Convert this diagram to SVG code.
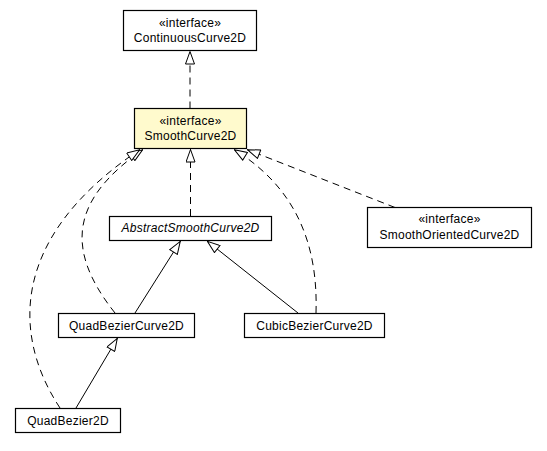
<svg xmlns="http://www.w3.org/2000/svg" width="547" height="451" viewBox="0 0 547 451">
<style>
.box{fill:#fff;stroke:#000;stroke-width:1.2}
.hl{fill:#fffacd}
.t{font-family:"Liberation Sans",Arial,sans-serif;font-size:12px;letter-spacing:0.25px;text-anchor:middle;fill:#000}
.i{font-style:italic}
.dash{fill:none;stroke:#000;stroke-width:1;stroke-dasharray:7,5;marker-end:url(#tri)}
.solid{fill:none;stroke:#000;stroke-width:1;marker-end:url(#tri)}
</style>
<defs>
<marker id="tri" viewBox="0 0 14 10" refX="14" refY="5" markerWidth="14" markerHeight="10" markerUnits="userSpaceOnUse" orient="auto">
<path d="M1,0.5 L13.5,5 L1,9.5 Z" fill="#fff" stroke="#000" stroke-width="1" stroke-dasharray="none"/>
</marker>
</defs>
<rect width="547" height="451" fill="#fff"/>
<g id="connectors">
<path class="dash" d="M190,108.5 L190,51"/>
<path class="dash" d="M190.5,216 L190.5,149"/>
<path class="solid" d="M135,313 L180.5,241"/>
<path class="solid" d="M298,313 L207,241"/>
<path class="solid" d="M76,408 L117.5,338"/>
<path class="dash" d="M115,313 C65,250 70,200 143,149.5"/>
<path class="dash" d="M60,408 C15,340 5,240 140,149.5"/>
<path class="dash" d="M316,313 C318,250 300,190 234,149.5"/>
<path class="dash" d="M395,207.5 L247,149.5"/>
</g>
<g id="ContinuousCurve2D">
<rect class="box" x="123.5" y="10.5" width="133" height="40"/>
<text class="t" x="190" y="26.5">«interface»</text>
<text class="t" x="190" y="42">ContinuousCurve2D</text>
</g>
<g id="SmoothCurve2D">
<rect class="box hl" x="134.5" y="108.5" width="112" height="40"/>
<text class="t" x="190.5" y="124.5">«interface»</text>
<text class="t" x="190.5" y="140">SmoothCurve2D</text>
</g>
<g id="AbstractSmoothCurve2D">
<rect class="box" x="109.5" y="216.5" width="162" height="24"/>
<text class="t i" x="190.5" y="232">AbstractSmoothCurve2D</text>
</g>
<g id="SmoothOrientedCurve2D">
<rect class="box" x="367.5" y="207.5" width="164" height="40"/>
<text class="t" x="449.5" y="223">«interface»</text>
<text class="t" x="449.5" y="239">SmoothOrientedCurve2D</text>
</g>
<g id="QuadBezierCurve2D">
<rect class="box" x="58.5" y="313.5" width="136" height="24"/>
<text class="t" x="126.5" y="329.5">QuadBezierCurve2D</text>
</g>
<g id="CubicBezierCurve2D">
<rect class="box" x="244.5" y="313.5" width="140" height="24"/>
<text class="t" x="314.5" y="329.5">CubicBezierCurve2D</text>
</g>
<g id="QuadBezier2D">
<rect class="box" x="15.5" y="408.5" width="105" height="24"/>
<text class="t" x="68" y="424.5">QuadBezier2D</text>
</g>
</svg>
